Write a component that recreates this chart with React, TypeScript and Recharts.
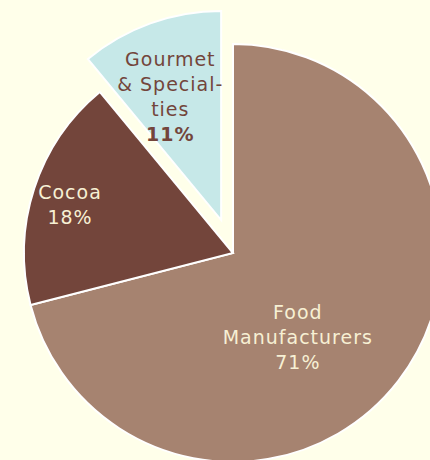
import { PieChart, Pie, Cell } from 'recharts';

// chart data
const categories = ['Food Manufacturers', 'Cocoa', 'Gourmet & Specialties'];
const shares = [71, 18, 11];
const labelLines = [['Food', 'Manufacturers'], ['Cocoa'], ['Gourmet', '& Special-', 'ties']];
const colors = ['#A68370', '#73453B', '#C6E8E8'];
const textColors = ['#F7F0D4', '#F7F0D4', '#73453B'];

const data = categories.map((name, i) => ({ name, value: shares[i] }));

const W = 430;
const H = 460;
const CX = 233;
const CY = 253;
const R = 209;
const EXPLODE = 35;
const EXPLODED = 2; // Gourmet slice pulled out
const LINE = 25;
const RAD = Math.PI / 180;

// where each label sits: distance from slice centre and a small angle nudge
const labelPlace = [
  { r: 106, shift: -14.5 },
  { r: 170, shift: 1.5 },
  { r: 134, shift: 2.5 },
];

const total = shares.reduce((a, b) => a + b, 0);
const before = shares.slice(0, EXPLODED).reduce((a, b) => a + b, 0);
const midFromTop = ((before + shares[EXPLODED] / 2) / total) * 360;
const ex = CX + EXPLODE * Math.sin(midFromTop * RAD);
const ey = CY - EXPLODE * Math.cos(midFromTop * RAD);

function makeLabel(visible: number[]) {
  return (props: any) => {
    const { cx, cy, midAngle, index, percent } = props;
    if (!visible.includes(index)) return null;
    const { r, shift } = labelPlace[index];
    const a = (midAngle + shift) * RAD;
    const x = cx + r * Math.cos(a);
    const y = cy - r * Math.sin(a);
    const lines = [...labelLines[index], `${Math.round(percent * 100)}%`];
    const y0 = y - ((lines.length - 1) * LINE) / 2;
    return (
      <text
        x={x}
        y={y0}
        textAnchor="middle"
        dominantBaseline="central"
        fill={textColors[index]}
        style={{ fontFamily: '"DejaVu Sans", Verdana, sans-serif', fontSize: 19, letterSpacing: 1 }}
      >
        {lines.map((t, i) => (
          <tspan
            key={i}
            x={x}
            y={y0 + i * LINE}
            fontWeight={index === EXPLODED && i === lines.length - 1 ? 'bold' : 'normal'}
          >
            {t}
          </tspan>
        ))}
      </text>
    );
  };
}

export default function App() {
  return (
    <div style={{ position: 'fixed', left: 0, top: 0, width: W, height: H, background: '#FFFFEA' }}>
      <PieChart width={W} height={H} margin={{ top: 0, right: 0, bottom: 0, left: 0 }}>
        <Pie
          data={data}
          dataKey="value"
          nameKey="name"
          cx={CX}
          cy={CY}
          outerRadius={R}
          startAngle={90}
          endAngle={-270}
          stroke="#FFFFFF"
          strokeWidth={2}
          label={makeLabel([0, 1])}
          labelLine={false}
          isAnimationActive={false}
        >
          {data.map((d, i) => (
            <Cell
              key={d.name}
              fill={i === EXPLODED ? 'none' : colors[i]}
              stroke={i === EXPLODED ? 'none' : '#FFFFFF'}
            />
          ))}
        </Pie>
        <Pie
          data={data}
          dataKey="value"
          nameKey="name"
          cx={ex}
          cy={ey}
          outerRadius={R}
          startAngle={90}
          endAngle={-270}
          stroke="#FFFFFF"
          strokeWidth={2}
          label={makeLabel([EXPLODED])}
          labelLine={false}
          isAnimationActive={false}
        >
          {data.map((d, i) => (
            <Cell
              key={d.name}
              fill={i === EXPLODED ? colors[i] : 'none'}
              stroke={i === EXPLODED ? '#FFFFFF' : 'none'}
            />
          ))}
        </Pie>
      </PieChart>
    </div>
  );
}
